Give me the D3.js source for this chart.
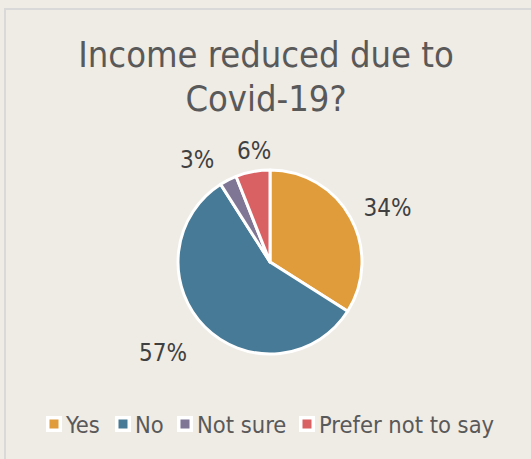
<!DOCTYPE html>
<html>
<head>
<meta charset="utf-8">
<script src="https://cdn.jsdelivr.net/npm/d3@7"></script>
<style>
  html, body { margin: 0; padding: 0; background: #efebe5; }
  svg { display: block; }
</style>
</head>
<body>
<svg id="chart" width="531" height="459"></svg>
<script>
// data
const categories = ["Yes", "No", "Not sure", "Prefer not to say"];
const values = [34, 57, 3, 6];
const colors = ["#e09c3a", "#477a96", "#7f7595", "#d96163"];
const titleLines = ["Income reduced due to", "Covid-19?"];

const width = 531, height = 459;
const font = "'DejaVu Sans Condensed', 'DejaVu Sans', sans-serif";
const svg = d3.select("#chart");

// chart area frame (only top/left edge visible)
svg.append("rect")
    .attr("x", 5).attr("y", 9)
    .attr("width", width).attr("height", height)
    .attr("fill", "#efebe5")
    .attr("stroke", "#d9d9d9")
    .attr("stroke-width", 2);

// title
svg.append("text")
    .attr("text-anchor", "middle")
    .attr("font-family", font)
    .attr("font-size", 36)
    .attr("fill", "#595959")
    .selectAll("tspan")
    .data(titleLines)
    .join("tspan")
    .attr("x", 266)
    .attr("y", (d, i) => 67 + i * 44)
    .text(d => d);

// pie
const cx = 270, cy = 262, r = 92;
const pie = d3.pie().sort(null).value(d => d)(values);
const arc = d3.arc().innerRadius(0).outerRadius(r);

const g = svg.append("g").attr("transform", `translate(${cx},${cy})`);
g.selectAll("path")
    .data(pie)
    .join("path")
    .attr("d", arc)
    .attr("fill", (d, i) => colors[i])
    .attr("stroke", "#fff")
    .attr("stroke-width", 3)
    .attr("stroke-linejoin", "round");

// data labels, placed outside the slices
const labelArc = d3.arc().innerRadius(122).outerRadius(122);
const labelShift = [[10.6, 3.8], [-20.7, 3.7], [-17.6, 5.7], [6.9, 7.8]];
g.selectAll("text.lbl")
    .data(pie)
    .join("text")
    .attr("class", "lbl")
    .attr("x", (d, i) => labelArc.centroid(d)[0] + labelShift[i][0])
    .attr("y", (d, i) => labelArc.centroid(d)[1] + labelShift[i][1])
    .attr("dy", "0.36em")
    .attr("text-anchor", "middle")
    .attr("font-family", font)
    .attr("font-size", 24)
    .attr("fill", "#404040")
    .text(d => Math.round(d.value) + "%");

// legend
const legendX = [46, 115, 177, 299];
const leg = svg.append("g").attr("font-family", font).attr("font-size", 23.5).attr("fill", "#595959");
categories.forEach((c, i) => {
    const item = leg.append("g").attr("transform", `translate(${legendX[i]},416)`);
    item.append("rect").attr("x", 0).attr("y", 0).attr("width", 16).attr("height", 16).attr("fill", "#fff");
    item.append("rect").attr("x", 3.5).attr("y", 3.5).attr("width", 9).attr("height", 9).attr("fill", colors[i]);
    item.append("text").attr("x", 20).attr("y", 17).text(c);
});
</script>
</body>
</html>
